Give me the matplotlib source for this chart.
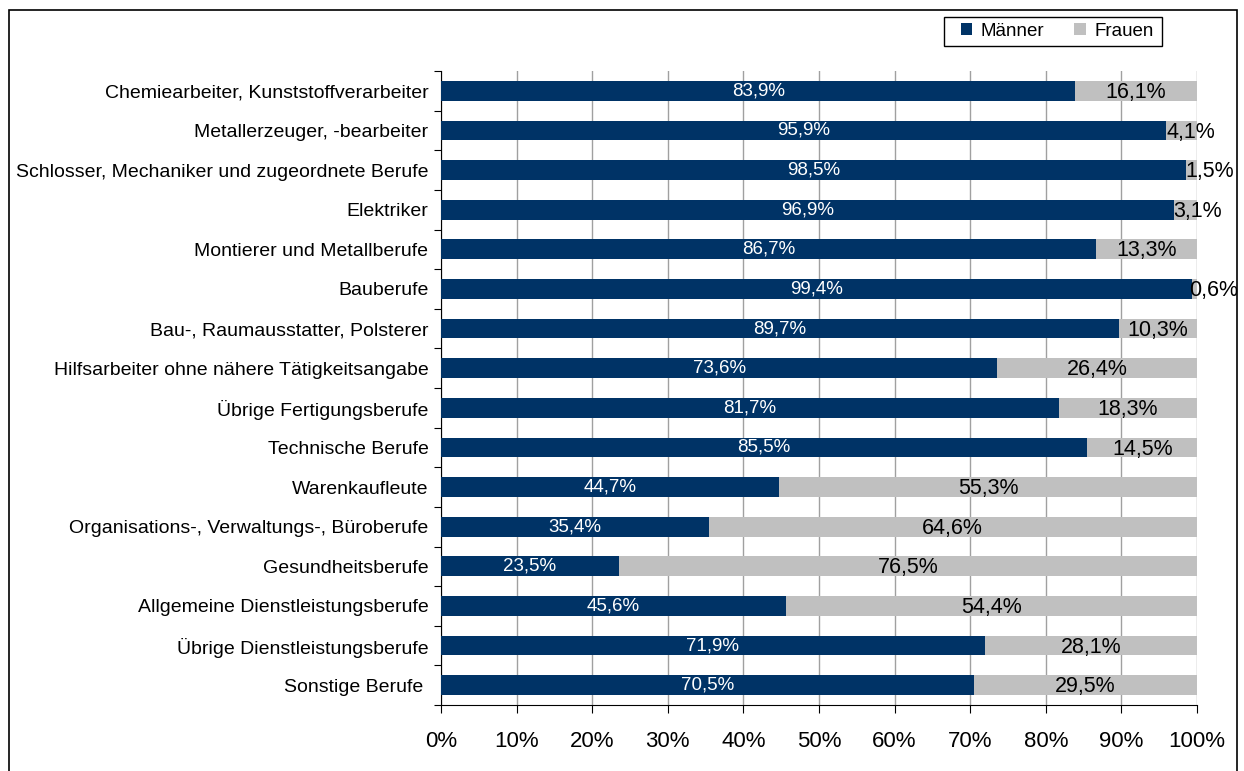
import matplotlib
matplotlib.use('Agg')
import matplotlib.pyplot as plt
import numpy as np
from matplotlib.patches import Rectangle

plt.rcParams['font.family'] = ['Liberation Sans', 'DejaVu Sans']

# Data
categories = [
    "Chemiearbeiter, Kunststoffverarbeiter",
    "Metallerzeuger, -bearbeiter",
    "Schlosser, Mechaniker und zugeordnete Berufe",
    "Elektriker",
    "Montierer und Metallberufe",
    "Bauberufe",
    "Bau-, Raumausstatter, Polsterer",
    "Hilfsarbeiter ohne nähere Tätigkeitsangabe",
    "Übrige Fertigungsberufe",
    "Technische Berufe",
    "Warenkaufleute",
    "Organisations-, Verwaltungs-, Büroberufe",
    "Gesundheitsberufe",
    "Allgemeine Dienstleistungsberufe",
    "Übrige Dienstleistungsberufe",
    "Sonstige Berufe ",
]
maenner = [83.9, 95.9, 98.5, 96.9, 86.7, 99.4, 89.7, 73.6, 81.7, 85.5,
           44.7, 35.4, 23.5, 45.6, 71.9, 70.5]
frauen = [16.1, 4.1, 1.5, 3.1, 13.3, 0.6, 10.3, 26.4, 18.3, 14.5,
          55.3, 64.6, 76.5, 54.4, 28.1, 29.5]

navy = '#003366'
grey = '#C0C0C0'

fig = plt.figure(figsize=(12.44, 7.71), dpi=100)
ax = fig.add_axes([441/1244, 1 - 705/771, (1197 - 441)/1244, (705 - 71)/771])

y = np.arange(len(categories))
h = 0.5
ax.barh(y, maenner, height=h, color=navy, label='Männer', zorder=3)
ax.barh(y, frauen, left=maenner, height=h, color=grey, label='Frauen', zorder=3)

def fmt(v):
    return f"{v:.1f}%".replace('.', ',')

for i in range(len(categories)):
    ax.text(maenner[i] / 2, y[i], fmt(maenner[i]), color='white',
            ha='center', va='center', fontsize=13.5, zorder=4)
    # narrow segments: label starts at the segment instead of being centred
    if frauen[i] < 6:
        ax.text(min(maenner[i], 99.0), y[i] + 0.04, fmt(frauen[i]), color='black',
                ha='left', va='center', fontsize=15.5, zorder=4)
    else:
        ax.text(maenner[i] + frauen[i] / 2, y[i] + 0.04, fmt(frauen[i]), color='black',
                ha='center', va='center', fontsize=15.5, zorder=4)

ax.set_xlim(0, 100)
ax.set_ylim(len(categories) - 0.5, -0.5)
ax.set_xticks(np.arange(0, 101, 10))
ax.set_xticklabels([f"{v}%" for v in range(0, 101, 10)], fontsize=16)
ax.tick_params(axis='x', length=6, pad=13, color='black')

# category boundaries as y ticks, labels as minor ticks
ax.set_yticks(np.arange(-0.5, len(categories), 1))
ax.set_yticklabels([])
ax.tick_params(axis='y', which='major', length=5, color='black')
ax.set_yticks(y, minor=True)
ax.set_yticklabels(categories, minor=True, fontsize=14)
ax.tick_params(axis='y', which='minor', length=0, pad=9)

ax.grid(axis='x', color='#A0A0A0', linewidth=1, zorder=0)
ax.set_axisbelow(True)
for s in ['top', 'right']:
    ax.spines[s].set_visible(False)
ax.spines['left'].set_color('black')
ax.spines['bottom'].set_color('black')

# legend with its own frame
fig.legend(loc='center left', bbox_to_anchor=(961/1244, 1 - 31.5/771),
           ncol=2, fontsize=13.5, frameon=False,
           handlelength=0.6, handleheight=0.6, handletextpad=0.45,
           columnspacing=1.6, borderpad=0, borderaxespad=0)
fig.patches.append(Rectangle((944/1244, 1 - 46/771), (1162 - 944)/1244, 29/771,
                             transform=fig.transFigure, fill=False,
                             edgecolor='black', linewidth=1))

# outer border
fig.patches.append(Rectangle((9/1244, -0.01), (1237 - 9)/1244, 1 - 10/771 + 0.01,
                             transform=fig.transFigure, fill=False,
                             edgecolor='black', linewidth=1.2))

fig.savefig('out.png', dpi=100)
